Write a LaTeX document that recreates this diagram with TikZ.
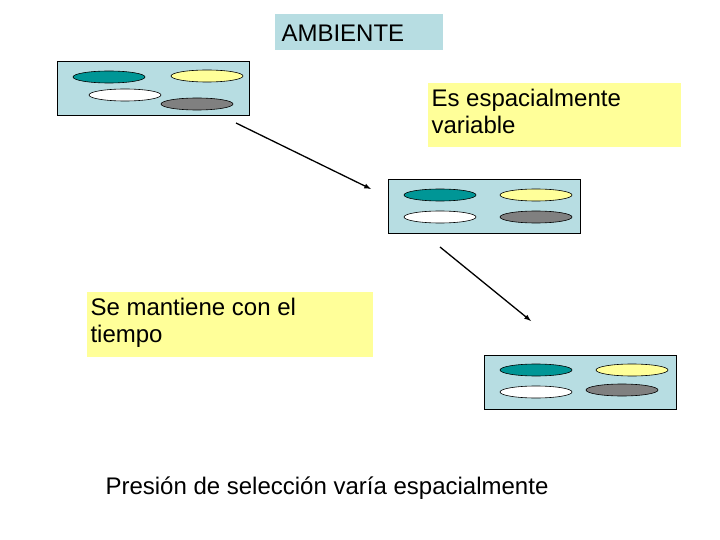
\documentclass[tikz,border=0pt]{standalone}
\usepackage{fontspec}
\setmainfont{Liberation Sans}
\definecolor{boxblue}{RGB}{183,221,226}
\definecolor{noteyellow}{RGB}{255,255,153}
\definecolor{tealc}{RGB}{0,150,150}
\definecolor{grayc}{RGB}{128,128,128}
\tikzset{
  panel/.style={draw=black, fill=boxblue, line width=0.8pt},
  cell/.style={draw=black, line width=0.6pt},
  txt/.style={align=left, font=\fontsize{24}{27}\selectfont},
  link/.style={-latex, line width=1.3pt}
}
\begin{document}
\begin{tikzpicture}[x=1pt,y=-1pt]
\useasboundingbox (0,0) rectangle (720,540);
% title
\fill[boxblue] (275,14) rectangle (443,50);
\node[txt, anchor=west] (title) at (278,33) {AMBIENTE};
% notes
\fill[noteyellow] (428,83) rectangle (681,147);
\node[txt, anchor=north west] (noteA) at (428,86) {Es espacialmente\\variable};
\fill[noteyellow] (87,292) rectangle (373,357);
\node[txt, anchor=north west] (noteB) at (87,295) {Se mantiene con el\\tiempo};
% panels
\draw[panel] (57,61) rectangle (249,115);
\draw[cell, fill=tealc] (109,77) ellipse (36 and 6);
\draw[cell, fill=noteyellow] (207,76) ellipse (36 and 6);
\draw[cell, fill=white] (125,95) ellipse (36 and 6);
\draw[cell, fill=grayc] (197,104) ellipse (36 and 6);
\draw[panel] (388,179) rectangle (580,233);
\draw[cell, fill=tealc] (440,195) ellipse (36 and 6);
\draw[cell, fill=noteyellow] (536,195) ellipse (36 and 6);
\draw[cell, fill=white] (440,217) ellipse (36 and 6);
\draw[cell, fill=grayc] (536,217) ellipse (36 and 6);
\draw[panel] (484,355) rectangle (676,409);
\draw[cell, fill=tealc] (536,370) ellipse (36 and 6);
\draw[cell, fill=noteyellow] (632,370) ellipse (36 and 6);
\draw[cell, fill=white] (536,392) ellipse (36 and 6);
\draw[cell, fill=grayc] (622,390) ellipse (36 and 6);
% arrows
\coordinate (a1) at (236,123);
\coordinate (a2) at (371,189);
\coordinate (b1) at (440,247);
\coordinate (b2) at (531,321);
\draw[link] (a1) -- (a2);
\draw[link] (b1) -- (b2);
% caption
\node[txt, anchor=west] (caption) at (102,488) {Presión de selección varía espacialmente};
\end{tikzpicture}
\end{document}
